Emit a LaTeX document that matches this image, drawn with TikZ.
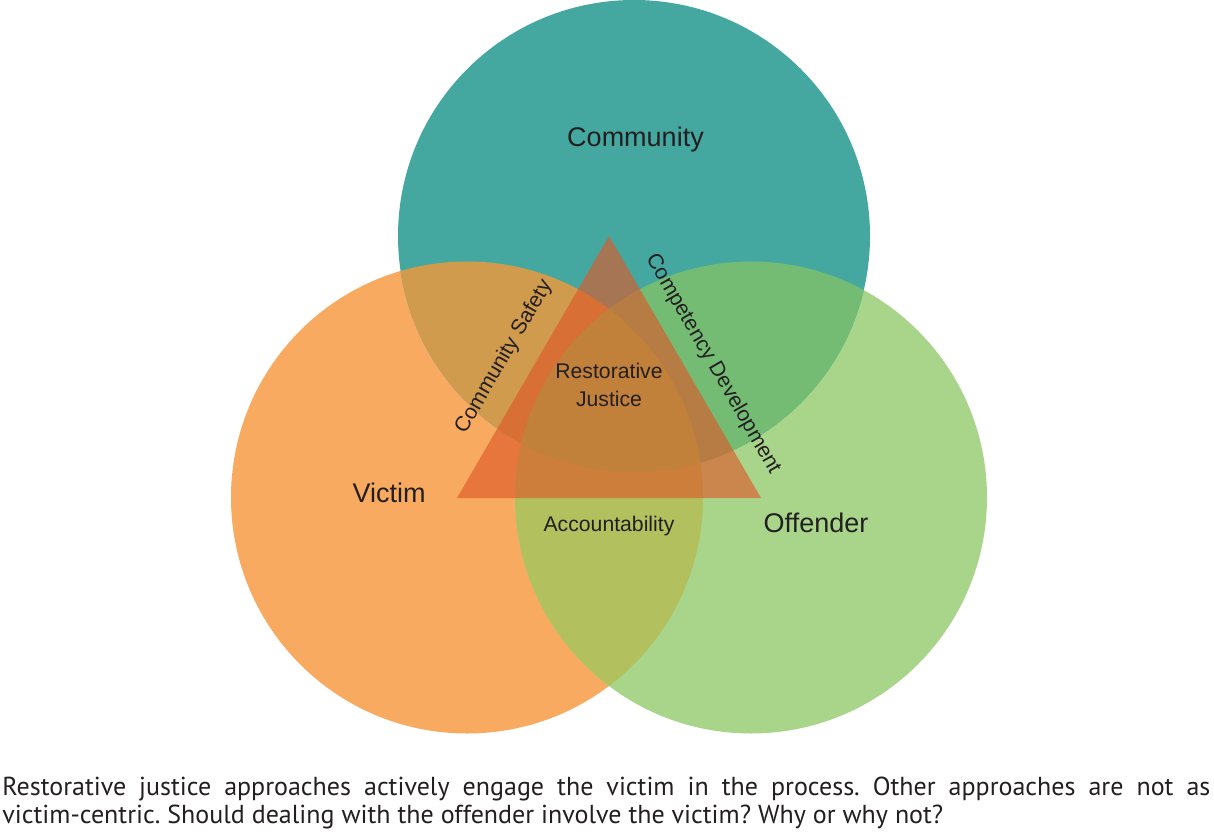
\documentclass[tikz,border=0pt]{standalone}
\usepackage{fontspec}
\setmainfont{Liberation Sans}
\newfontfamily\capfont{PT Sans}
\frenchspacing
\definecolor{cT}{RGB}{69,168,160}
\definecolor{cO}{RGB}{248,170,96}
\definecolor{cG}{RGB}{169,213,139}
\definecolor{cTO}{RGB}{208,155,76}
\definecolor{cTG}{RGB}{116,188,116}
\definecolor{cOG}{RGB}{178,193,94}
\definecolor{cTOG}{RGB}{146,200,89}
\definecolor{cTri}{RGB}{222,88,40}
\definecolor{ink}{RGB}{35,31,32}
\tikzset{
  bigl/.style={font=\fontsize{13.5pt}{16pt}\selectfont, text=ink, inner sep=0pt},
  smalll/.style={font=\fontsize{10.6pt}{13.5pt}\selectfont, text=ink, inner sep=0pt},
  caption/.style={font=\capfont\fontsize{13pt}{14pt}\selectfont\frenchspacing, text=ink, inner sep=0pt, anchor=base west},
}
\begin{document}
\begin{tikzpicture}[x=0.5pt,y=-0.5pt]
\useasboundingbox (0,0) rectangle (1214,839);
\coordinate (cc) at (634,236);
\coordinate (vc) at (467,497.5);
\coordinate (oc) at (751,497.5);
\def\R{118pt}
% base circles
\fill[cO] (vc) circle[radius=\R];
\fill[cG] (oc) circle[radius=\R];
\fill[cT] (cc) circle[radius=\R];
% overlaps
\begin{scope}
  \clip (vc) circle[radius=\R];
  \fill[cTO] (cc) circle[radius=\R];
  \fill[cOG] (oc) circle[radius=\R];
\end{scope}
\begin{scope}
  \clip (oc) circle[radius=\R];
  \fill[cTG] (cc) circle[radius=\R];
\end{scope}
\begin{scope}
  \clip (vc) circle[radius=\R];
  \clip (oc) circle[radius=\R];
  \fill[cTOG] (cc) circle[radius=\R];
\end{scope}
% triangle
\coordinate (ta) at (609,236);
\coordinate (tb) at (457,498);
\coordinate (tc) at (761,498);
\fill[cTri, fill opacity=0.63] (ta) -- (tb) -- (tc) -- cycle;
% labels
\node[bigl, anchor=base] (community) at (635.5,147) {Community};
\node[bigl, anchor=base] (victim) at (389,502) {Victim};
\node[bigl, anchor=base] (offender) at (816,532) {Offender};
\node[smalll, anchor=base, align=center] (rj) at (609,406) {Restorative\\Justice};
\node[smalll, anchor=base] (acc) at (609,531) {Accountability};
\node[smalll, rotate=60] (safety) at (504,357) {Community Safety};
\node[smalll, rotate=-60] (comp) at (713,364) {Competency Development};
% caption
\node[caption] (cap1) at (2,795) {\makebox[604pt][s]{Restorative justice approaches actively engage the victim in the process. Other approaches are not as}};
\node[caption] (cap2) at (2,823) {victim-centric. Should dealing with the offender involve the victim? Why or why not?};
\end{tikzpicture}
\end{document}
